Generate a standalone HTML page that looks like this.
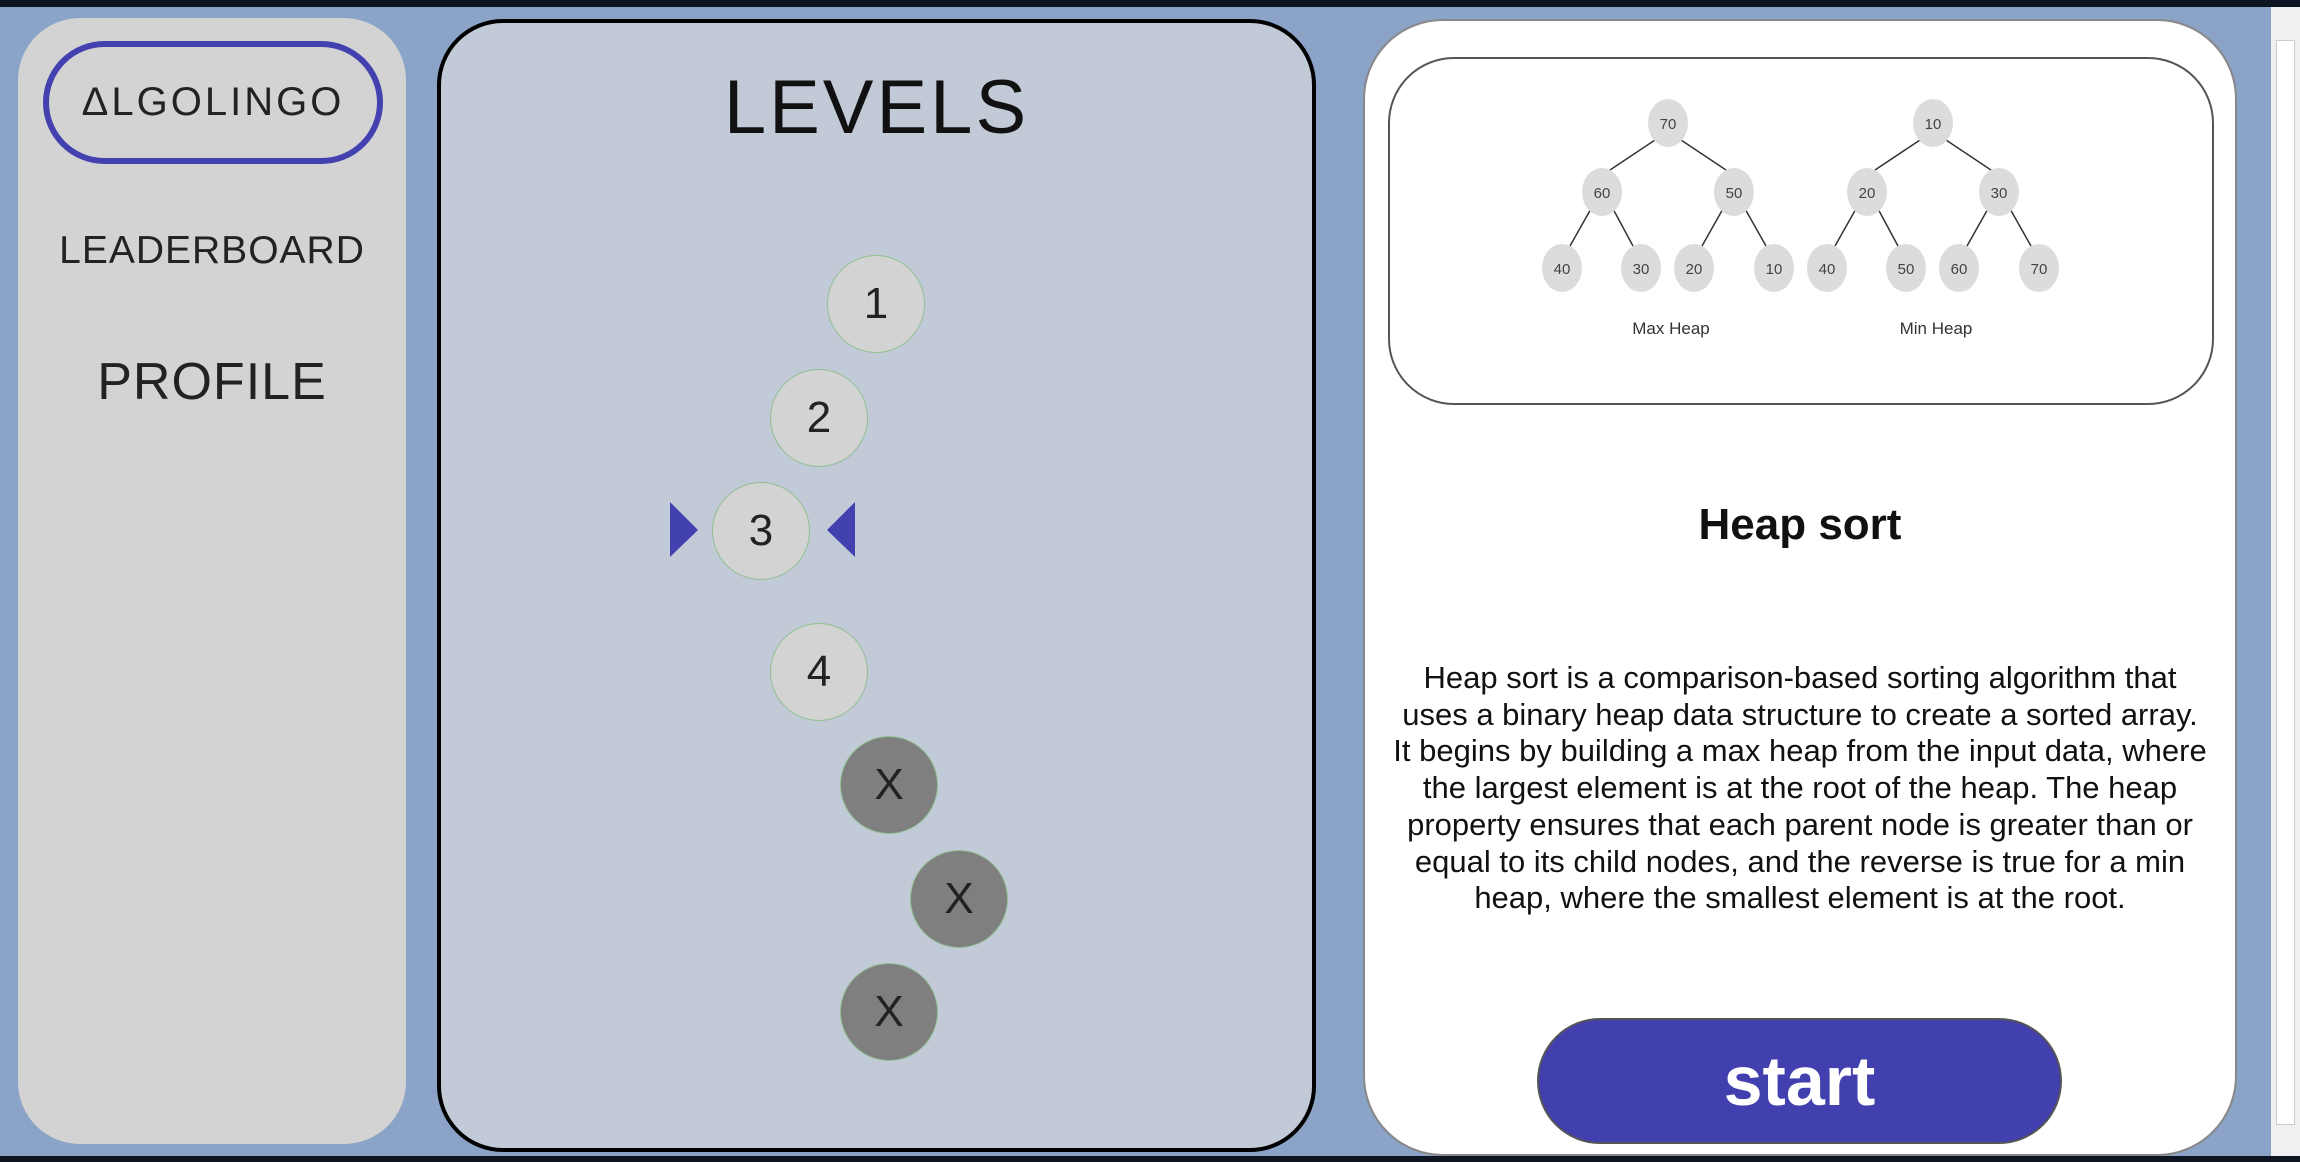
<!DOCTYPE html>
<html><head><meta charset="utf-8">
<style>
*{box-sizing:border-box;margin:0;padding:0}
body{width:2300px;height:1162px;overflow:hidden;background:#8ba3c6;font-family:"Liberation Sans",sans-serif;position:relative}
.abs{position:absolute}
#topbar{left:0;top:0;width:2300px;height:7px;background:#0d1620}
#botbar{left:0;top:1156px;width:2300px;height:6px;background:#0d1620}
#left{left:18px;top:18px;width:388px;height:1126px;background:#d3d3d3;border-radius:62px}
#logo{left:43px;top:41px;width:340px;height:123px;border:6px solid #4341b0;border-radius:62px;display:flex;align-items:center;justify-content:center;font-size:40px;letter-spacing:3px;color:#222}
.nav{left:18px;width:388px;text-align:center;color:#222}
#mid{left:437px;top:19px;width:879px;height:1133px;background:#c2cad8;border:4px solid #000;border-radius:66px}
#levels{left:437px;top:64px;width:879px;text-align:center;font-size:76px;letter-spacing:3px;color:#111}
.lvl{width:98px;height:98px;border-radius:50%;border:1.5px solid #8fbf8f;background:#d3d3d3;display:flex;align-items:center;justify-content:center;font-size:44px;color:#222}
.lvl.x{background:#7f7f7f}
#right{left:1363px;top:19px;width:874px;height:1137px;background:#fff;border:2px solid #888;border-radius:80px}
#imgbox{left:1388px;top:57px;width:826px;height:348px;border:2px solid #555;border-radius:66px}
#title{left:1363px;top:500px;width:874px;text-align:center;font-weight:bold;font-size:44px;color:#111}
#desc{left:1370px;top:660px;width:860px;text-align:center;font-size:31px;line-height:36.7px;color:#111}
#start{left:1537px;top:1018px;width:525px;height:126px;border-radius:63px;background:#423fae;border:2px solid #555;display:flex;align-items:center;justify-content:center;color:#fff;font-weight:bold;font-size:70px}
#scroll{left:2271px;top:7px;width:29px;height:1149px;background:#f0f0f0}
#thumb{left:2276px;top:40px;width:19px;height:1085px;background:#fff;border:1px solid #ccc}
</style></head><body>
<div class="abs" id="topbar"></div>
<div class="abs" id="left"></div>
<div class="abs" id="logo">ΔLGOLINGO</div>
<div class="abs nav" style="top:229px;font-size:39px;letter-spacing:1px">LEADERBOARD</div>
<div class="abs nav" style="top:352px;font-size:52px;letter-spacing:1px">PROFILE</div>

<div class="abs" id="mid"></div>
<div class="abs" id="levels">LEVELS</div>
<div class="abs lvl" style="left:827px;top:255px">1</div>
<div class="abs lvl" style="left:770px;top:369px">2</div>
<div class="abs lvl" style="left:712px;top:482px">3</div>
<div class="abs lvl" style="left:770px;top:623px">4</div>
<div class="abs lvl x" style="left:840px;top:736px">X</div>
<div class="abs lvl x" style="left:910px;top:850px">X</div>
<div class="abs lvl x" style="left:840px;top:963px">X</div>
<svg class="abs" style="left:0;top:0" width="2300" height="1162">
<polygon points="670,502 698,530 670,557" fill="#4341b0"/>
<polygon points="855,502 827,530 855,557" fill="#4341b0"/>
</svg>

<div class="abs" id="right"></div>
<div class="abs" id="imgbox"></div>
<svg class="abs" id="trees" style="left:0;top:0" width="2300" height="1162"></svg>
<div class="abs" id="title">Heap sort</div>
<div class="abs" id="desc">Heap sort is a comparison-based sorting algorithm that<br>uses a binary heap data structure to create a sorted array.<br>It begins by building a max heap from the input data, where<br>the largest element is at the root of the heap. The heap<br>property ensures that each parent node is greater than or<br>equal to its child nodes, and the reverse is true for a min<br>heap, where the smallest element is at the root.</div>
<div class="abs" id="start">start</div>
<div class="abs" id="scroll"></div>
<div class="abs" id="thumb"></div>
<div class="abs" id="botbar"></div>
<script>
const maxHeap=[70,60,50,40,30,20,10];
const minHeap=[10,20,30,40,50,60,70];
const treeLabels=["Max Heap","Min Heap"];
const svg=document.getElementById('trees');
const NS='http://www.w3.org/2000/svg';
function drawTree(vals,ox,label){
  const pos=[[0,0],[-66,69],[66,69],[-106,145],[-27,145],[26,145],[106,145]];
  const top=123;
  const pts=pos.map(p=>[ox+p[0],top+p[1]]);
  [[0,1],[0,2],[1,3],[1,4],[2,5],[2,6]].forEach(e=>{
    const l=document.createElementNS(NS,'line');
    
    
    const a=pts[e[0]],b=pts[e[1]];
    l.setAttribute('x1',a[0]+(b[0]>a[0]?10:-10));l.setAttribute('y1',a[1]+15);
    l.setAttribute('x2',b[0]+(b[0]>a[0]?-8:8));l.setAttribute('y2',b[1]-22);
    l.setAttribute('stroke','#333');l.setAttribute('stroke-width','1.5');
    svg.appendChild(l);
  });
  vals.forEach((v,i)=>{
    const c=document.createElementNS(NS,'ellipse');
    
    
    c.setAttribute('cx',pts[i][0]);c.setAttribute('cy',pts[i][1]);
    c.setAttribute('rx',20);c.setAttribute('ry',24);c.setAttribute('fill','#dcdcdc');
    svg.appendChild(c);
    const t=document.createElementNS(NS,'text');
    
    
    t.setAttribute('x',pts[i][0]);t.setAttribute('y',pts[i][1]+6);
    t.setAttribute('text-anchor','middle');t.setAttribute('font-size','15');t.setAttribute('fill','#444');
    t.setAttribute('font-family','Liberation Sans, sans-serif');
    t.textContent=v;svg.appendChild(t);
  });
  const t=document.createElementNS(NS,'text');
  
  
  t.setAttribute('x',ox+3);t.setAttribute('y',334);t.setAttribute('text-anchor','middle');
  t.setAttribute('font-size','17');t.setAttribute('fill','#333');
  t.setAttribute('font-family','Liberation Sans, sans-serif');
  t.textContent=label;svg.appendChild(t);
}
drawTree(maxHeap,1668,treeLabels[0]);
drawTree(minHeap,1933,treeLabels[1]);
</script>
</body></html>
